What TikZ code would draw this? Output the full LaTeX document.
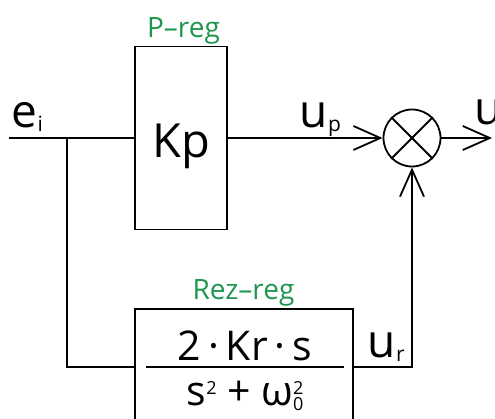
\documentclass[tikz,border=0pt]{standalone}
\usepackage{fontspec}
\setmainfont{Open Sans}
\usetikzlibrary{arrows.meta,positioning}
\definecolor{reggreen}{RGB}{30,150,80}
\newcommand{\lowidx}[1]{{\fontsize{21}{21}\selectfont\raisebox{-4pt}{#1}}}
\newcommand{\upidx}[1]{{\fontsize{18}{18}\selectfont\raisebox{11pt}{#1}}}
\newcommand{\dnidx}[1]{{\fontsize{18}{18}\selectfont\raisebox{-5pt}{#1}}}

\begin{document}
\begin{tikzpicture}[x=1pt, y=-1pt, line width=1.8pt,
  >={Straight Barb[length=27pt,width=24pt]},
  blk/.style={draw, inner sep=0pt},
  sig/.style={inner sep=0pt, anchor=base west, font=\fontsize{46}{50}\selectfont},
  tag/.style={inner sep=0pt, anchor=base, text=reggreen, font=\fontsize{28}{30}\selectfont},
  frac/.style={inner sep=0pt, anchor=base, font=\fontsize{41}{44}\selectfont}]
\useasboundingbox (0,0) rectangle (495,419);
\clip (0,0) rectangle (495,419);

% blocks
\node[blk, minimum width=92pt, minimum height=183pt, text height=39pt, text depth=0pt,
      font=\fontsize{47}{50}\selectfont] (kp) at (181,138) {Kp};
\node[tag] (ptag) at (183.5,38) {P–reg};
\node[draw, circle, minimum size=57pt, inner sep=0pt] (sum) at (412,138) {};
\draw (sum.45) -- (sum.225) (sum.135) -- (sum.-45);
\node[blk, minimum width=218pt, minimum height=116pt] (rez) at (244,367) {};
\node[tag] (rtag) at (243.5,300) {Rez–reg};
\node[frac] (num) at (245,360) {2\,·\,Kr\,·\,s};
\draw ([xshift=12pt]rez.west) -- ([xshift=-10pt]rez.east);
\node[frac] (den) at (245,405) {s\upidx{2} + ω\rlap{\dnidx{0}}\upidx{2}};

% signals
\node[sig] (ei) at (11,128) {e\lowidx{i}};
\node[sig] (up) at (299,128) {u\lowidx{p}};
\node[sig] (uout) at (474,125) {u};
\node[sig] (ur) at (367,357) {u\lowidx{r}};

\coordinate (in) at (9,138);
\coordinate (split) at (67,138);
\coordinate (out) at (492,138);

\draw (in) -- (kp.west);
\draw[->] (kp.east) -- (sum.west);
\draw[->] (sum.east) -- (out);
\draw (split) |- (rez.west);
\draw[->] (rez.east) -| (sum.south);
\end{tikzpicture}
\end{document}
